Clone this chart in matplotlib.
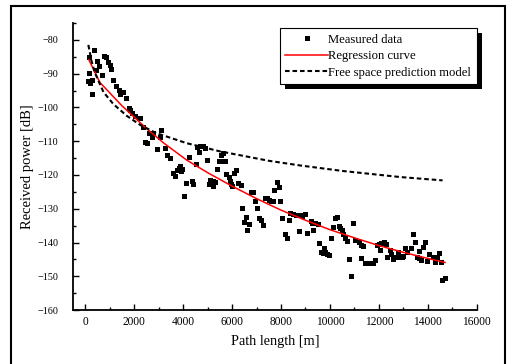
import matplotlib
matplotlib.use('Agg')
import matplotlib.pyplot as plt
from matplotlib.patches import Rectangle
from matplotlib.ticker import MultipleLocator

plt.rcParams['font.family'] = ['Liberation Serif', 'DejaVu Serif']

# measured points (path length [m], received power [dB])
meas_x = [150, 367, 503, 585, 422, 165, 694, 135, 260, 200, 270,
          776, 857, 939, 1000, 1060, 1156, 1265, 1374, 1537, 1429, 1673,
          1782, 1837, 1918, 2027, 2190, 2245, 2354, 2435, 2517,
          2626, 2735, 2789, 2925, 3061, 3116, 3252, 3361, 3469,
          3580, 3660, 3742, 3823, 3878, 3905, 3960,
          4041, 4122, 4260, 4367, 4422, 4531, 4558, 4667, 4694, 4828, 4910,
          4992, 5049, 5102, 5212, 5237, 5318, 5374, 5456, 5538, 5592, 5620,
          5702, 5770, 5880, 5918, 5971, 6000, 6100, 6163, 6245, 6355,
          6408, 6490, 6571, 6624, 6682, 6788, 6869, 6951, 7008, 7090, 7171,
          7253, 7335, 7416, 7498, 7580, 7661, 7714, 7824, 7906, 7959, 8041,
          8151, 8233, 8339, 8367, 8500, 8600, 8722, 8776, 8857, 8967,
          9049, 9212, 9265, 9294, 9376, 9510, 9565, 9620, 9702, 9755, 9800,
          9865, 9947, 10053, 10135, 10192, 10273, 10355, 10408, 10490, 10543,
          10624, 10706, 10788, 10869, 10951, 11033, 11171, 11253, 11277, 11359,
          11441, 11522, 11633, 11741, 11849, 11906, 12012, 12041, 12094, 12204,
          12286, 12339, 12449, 12502, 12584, 12665, 12776, 12780, 12857, 12939,
          12992, 13049, 13131, 13294, 13400, 13457, 13539, 13620, 13620, 13727,
          13784, 13865, 13947, 14053, 14192, 14273, 14298, 14355, 14437, 14543,
          14571, 14682]
meas_y = [-85.0, -83.0, -86.3, -87.7, -88.9, -89.7, -90.3, -92.2, -91.8, -92.8, -95.9,
          -84.7, -85.2, -86.5, -87.5, -88.6, -91.9, -93.7, -94.8, -95.3, -96.0, -97.2,
          -100.2, -100.8, -101.6, -102.4, -103.0, -103.1, -105.7, -110.3, -110.5,
          -107.7, -108.9, -107.5, -112.3, -108.9, -106.7, -112.0, -114.2, -115.0,
          -119.4, -120.2, -118.4, -117.8, -117.4, -118.9, -118.1,
          -126.2, -122.3, -114.6, -121.8, -122.6, -116.8, -111.7, -113.1, -111.5, -111.5, -111.9,
          -115.6, -122.6, -121.5, -121.8, -123.3, -122.1, -118.3, -115.8, -114.0, -115.8, -113.6,
          -115.8, -119.6, -120.6, -121.8, -122.6, -123.2, -119.5, -118.6, -122.3, -122.9,
          -129.7, -133.8, -132.4, -136.4, -134.4, -124.9, -124.9, -127.7, -129.7, -132.6, -133.2,
          -134.8, -126.9, -126.7, -127.3, -127.7, -127.7, -124.5, -122.1, -123.5, -127.7, -132.6,
          -137.4, -138.6, -133.4, -131.2, -131.6, -131.8, -136.6, -131.8, -132.2, -131.6,
          -137.1, -133.6, -134.2, -136.4, -134.2, -134.4, -140.0, -142.7, -143.1, -141.7, -142.7,
          -143.3, -143.7, -138.8, -135.4, -132.8, -132.4, -135.2, -135.8, -136.2, -137.6,
          -138.6, -139.6, -144.9, -150.0, -134.2, -139.3, -139.9, -144.5, -140.7, -141.1,
          -146.1, -146.1, -146.1, -146.1, -145.3, -140.7, -140.4, -142.3, -140.1, -139.9,
          -140.5, -144.3, -142.3, -143.3, -145.0, -144.3, -144.3, -142.8, -144.3, -144.3,
          -143.9, -141.5, -142.7, -141.5, -137.6, -139.9, -144.3, -144.7, -142.5, -145.1,
          -141.3, -139.8, -145.5, -143.3, -144.3, -145.7, -145.3, -144.3, -143.1, -145.9,
          -151.0, -150.4]

# regression curve
reg_x = [150, 600, 1500, 2500, 3200, 4150, 5000, 6000, 7000, 8000, 9000,
         10000, 11000, 12000, 13000, 14000, 14700]
reg_y = [-85.9, -92.6, -99.5, -106.2, -110.5, -115.6, -119.3, -123.3, -127.0,
         -130.4, -133.4, -136.2, -138.6, -140.9, -142.9, -144.7, -145.9]

# free space prediction
fs_x = [130, 250, 400, 750, 1150, 1700, 2250, 2900, 4150, 5500, 7500, 8800,
        10500, 12850, 14600]
fs_y = [-81.5, -86.0, -89.8, -95.5, -99.0, -102.5, -105.2, -107.6, -110.6,
        -113.0, -115.8, -117.2, -118.8, -120.6, -121.6]

fig = plt.figure(figsize=(5.10, 3.64), dpi=100)
ax = fig.add_axes([0.143, 0.148, 0.792, 0.789])

ax.plot(meas_x, meas_y, 's', color='black', ms=3.6, mew=0, label='Measured data')
ax.plot(reg_x, reg_y, '-', color='red', lw=1.1, label='Regression curve')
ax.plot(fs_x, fs_y, color='black', lw=1.5, linestyle=(0, (2.2, 1.4)),
        label='Free space prediction model')

ax.set_xlim(-500, 16000)
ax.set_ylim(-160, -75)
ax.xaxis.set_major_locator(MultipleLocator(2000))
ax.xaxis.set_minor_locator(MultipleLocator(1000))
ax.yaxis.set_major_locator(MultipleLocator(10))
ax.yaxis.set_minor_locator(MultipleLocator(5))
ax.spines['top'].set_visible(False)
ax.spines['right'].set_visible(False)
for s in ('left', 'bottom'):
    ax.spines[s].set_linewidth(1.3)
ax.tick_params(which='both', direction='in', width=1.0)
ax.tick_params(which='major', length=4.3)
ax.tick_params(which='minor', length=2.5)
ax.tick_params(axis='x', which='major', pad=4.5, labelsize=8.3)
ax.tick_params(axis='y', which='major', pad=10.4, labelsize=7.3)

ax.set_xlabel('Path length [m]', fontsize=10.3, labelpad=4.5)
ax.set_ylabel('Received power [dB]', fontsize=10.5, labelpad=2.5)

leg = ax.legend(loc='upper right', bbox_to_anchor=(1.0, 0.982), borderaxespad=0,
                fontsize=9.1, fancybox=False, framealpha=1, edgecolor='black',
                handlelength=3.4, handletextpad=0.0, borderpad=0.45,
                labelspacing=0.35)
leg.get_frame().set_linewidth(0.8)

# solid black drop shadow under the legend box
fig.canvas.draw()
bb = leg.get_frame().get_window_extent().transformed(fig.transFigure.inverted())
shadow = Rectangle((bb.x0 + 5 / 510, bb.y0 - 5 / 364), bb.width, bb.height,
                   transform=fig.transFigure, facecolor='black', edgecolor='none',
                   zorder=4.5, clip_on=False)
ax.add_artist(shadow)

fig.patches.append(Rectangle((11 / 510, -0.02), 494 / 510, 1.02 - 5.7 / 364,
                             transform=fig.transFigure, fill=False,
                             edgecolor='black', lw=1.5))

fig.savefig('out.png', dpi=100)
